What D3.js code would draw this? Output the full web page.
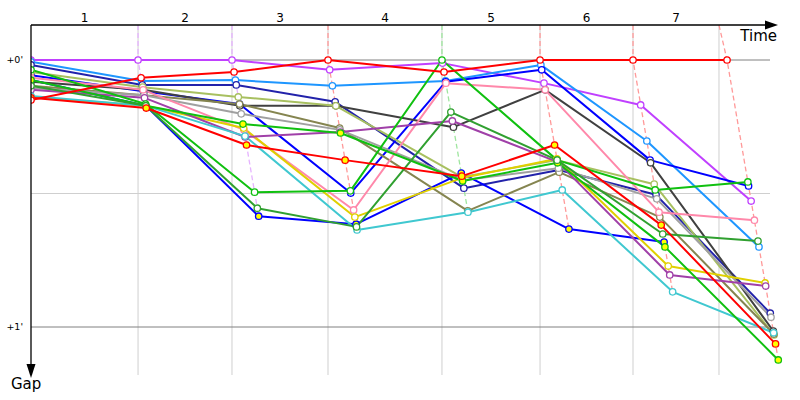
<!DOCTYPE html>
<html><head><meta charset="utf-8">
<script src="https://cdn.jsdelivr.net/npm/d3@7"></script>
<style>body{margin:0;background:#fff}svg{display:block}text{font-family:"DejaVu Sans",Verdana,sans-serif;fill:#000}</style>
</head><body><svg id="c" width="800" height="400"></svg>
<script>
// ---- data (times / gaps in seconds) ----
const lapLabels = ["1","2","3","4","5","6","7"];
const lapMarks = [140.8, 264.4, 390.7, 540.6, 669.6, 791.9, 905.0];
const leaderTimes = [0, 140.8, 264.4, 390.7, 540.6, 669.6, 791.9, 915.6];
const gapTicks = [0, 30, 60];
const gapTickLabels = ["+0'", "", "+1'"];

const gapViolet      = [0, 0, 0, 2.2, 0.7, 5.2, 10.1, 31.7];
const gapRed         = [9.0, 4.0, 2.7, 0, 2.7, 0, 0, 0];
const gapSkyBlue     = [0.4, 4.7, 4.5, 5.8, 4.7, 1.1, 18.2, 42.0];
const gapNavy        = [1.1, 5.6, 5.6, 9.4, 28.8, 24.7, 30.3, 56.9];
const gapBlue        = [3.4, 7.0, 9.9, 29.9, 4.9, 2.2, 22.5, 28.3];
const gapBlueYellow  = [4.5, 10.3, 35.1, 36.9, 25.4, 38.0, 40.9];
const gapDarkGray    = [4.9, 6.7, 10.3, 10.3, 15.1, 6.7, 23.1, 60.9];
const gapLightOlive  = [2.7, 6.1, 8.3, 10.3, 26.3, 22.5, 27.9, 61.8];
const gapOlive       = [5.8, 7.9, 9.9, 15.3, 33.9, 25.2, 35.3, 61.6];
const gapGray        = [6.3, 7.9, 12.1, 15.7, 27.0, 24.3, 31.2, 57.8];
const gapPink        = [4.0, 6.7, 15.7, 33.7, 5.2, 6.7, 34.2, 36.0];
const gapYellow      = [8.3, 10.3, 15.3, 35.3, 26.5, 22.2, 46.3, 50.1];
const gapPurple      = [6.7, 8.5, 17.3, 16.2, 13.7, 22.9, 48.3, 50.8];
const gapCyan        = [8.1, 10.3, 17.1, 38.2, 34.2, 29.2, 52.1, 61.3];
const gapGreen       = [2.2, 9.9, 29.7, 29.4, 0, 22.5, 29.2, 27.4];
const gapGreenYellow = [4.5, 10.3, 14.4, 16.4, 27.2, 23.1, 42.0, 67.4];
const gapDarkGreen   = [5.8, 10.3, 33.3, 37.5, 11.7, 22.5, 39.1, 40.7];
const gapRedYellow   = [8.5, 10.8, 19.1, 22.5, 26.1, 19.1, 37.1, 63.8];

const series = [
  {color:"#c040ff", fill:"#fff",    gaps:gapViolet},
  {color:"#1e96ff", fill:"#fff",    gaps:gapSkyBlue},
  {color:"#2222aa", fill:"#fff",    gaps:gapNavy},
  {color:"#0000ff", fill:"#fff",    gaps:gapBlue},
  {color:"#0000ff", fill:"#ffff00", gaps:gapBlueYellow},
  {color:"#404040", fill:"#fff",    gaps:gapDarkGray},
  {color:"#a8c060", fill:"#fff",    gaps:gapLightOlive},
  {color:"#858550", fill:"#fff",    gaps:gapOlive},
  {color:"#a0a0a0", fill:"#fff",    gaps:gapGray},
  {color:"#ff88aa", fill:"#fff",    gaps:gapPink},
  {color:"#e0d000", fill:"#fff",    gaps:gapYellow},
  {color:"#a040a8", fill:"#fff",    gaps:gapPurple},
  {color:"#40c8d0", fill:"#fff",    gaps:gapCyan},
  {color:"#10c010", fill:"#fff",    gaps:gapGreen},
  {color:"#10c010", fill:"#ffff00", gaps:gapGreenYellow},
  {color:"#30a030", fill:"#fff",    gaps:gapDarkGreen},
  {color:"#ff0000", fill:"#ffff00", gaps:gapRedYellow},
  {color:"#ff0000", fill:"#fff",    gaps:gapRed}
];

// ---- scales ----
const x = d3.scaleLinear().domain([0, 980]).range([31, 776]);
const y = d3.scaleLinear().domain([0, 60]).range([60, 327]);
const axisTop = 25, gridBottom = 375, gridRight = 770;

const svg = d3.select("#c");
svg.append("defs").append("clipPath").attr("id","clip")
  .append("rect").attr("x",31).attr("y",0).attr("width",769).attr("height",400);

series.forEach(s => {
  s.pts = s.gaps.map((g,i) => ({lap:i, gap:g,
    px: i === 0 ? x(0) : x(leaderTimes[i] + g), py: y(g)}));
});

// ---- grid ----
const grid = svg.append("g");
grid.selectAll("line.v").data(lapMarks).join("line")
  .attr("x1", d=>x(d)).attr("x2", d=>x(d)).attr("y1", axisTop).attr("y2", gridBottom)
  .attr("stroke","#cfcfcf").attr("stroke-width",1);
grid.selectAll("line.h").data(gapTicks).join("line")
  .attr("x1", 31).attr("x2", gridRight).attr("y1", d=>y(d)).attr("y2", d=>y(d))
  .attr("stroke", (d,i)=> i===1 ? "#cfcfcf" : "#808080").attr("stroke-width",1);

// ---- lap lines ----
const lapG = svg.append("g");
for (let k = 1; k < leaderTimes.length; k++) {
  const pts = series.filter(s => s.gaps.length > k).map(s => ({s, p:s.pts[k]}));
  pts.sort((a,b)=>a.p.gap - b.p.gap);
  const lead = pts[0].s.color;
  const col = d3.interpolateRgb(lead, "#fff")(0.6);
  const path = [[x(lapMarks[k-1]), axisTop]].concat(pts.map(d=>[d.p.px, d.p.py]));
  lapG.append("path").attr("d", d3.line()(path)).attr("fill","none")
    .attr("stroke", col).attr("stroke-width",1.3).attr("stroke-dasharray","5,3");
}

// ---- series ----
const plot = svg.append("g").attr("clip-path","url(#clip)");
const line = d3.line().x(d=>d.px).y(d=>d.py);
series.forEach(s => {
  plot.append("path").attr("d", line(s.pts)).attr("fill","none")
    .attr("stroke", s.color).attr("stroke-width",2).attr("stroke-linejoin","round");
});
series.forEach(s => {
  plot.append("g").selectAll("circle").data(s.pts).join("circle")
    .attr("cx", d=>d.px).attr("cy", d=>d.py).attr("r",3.2)
    .attr("fill", s.fill).attr("stroke", s.color).attr("stroke-width",1.3);
});

// ---- axes ----
svg.append("line").attr("x1",31).attr("x2",768).attr("y1",axisTop).attr("y2",axisTop)
  .attr("stroke","#000").attr("stroke-width",1.3);
svg.append("path").attr("d", d3.line()([[765,20.5],[778,25],[765,29.5]])+"Z").attr("fill","#000");
svg.append("line").attr("x1",31).attr("x2",31).attr("y1",axisTop).attr("y2",372)
  .attr("stroke","#000").attr("stroke-width",1.3);
svg.append("path").attr("d", d3.line()([[26.5,364],[31,378],[35.5,364]])+"Z").attr("fill","#000");

const mids = lapMarks.map((m,i)=> { const p = i===0 ? 0 : lapMarks[i-1]; return (p + m)/2; });
svg.selectAll("text.lap").data(lapLabels).join("text")
  .attr("x",(d,i)=>x(mids[i])).attr("y",22).attr("text-anchor","middle")
  .style("font-size","12px").text(d=>d);

svg.selectAll("text.gt").data(gapTicks).join("text")
  .attr("x",23).attr("y",d=>y(d)+3).attr("text-anchor","end")
  .style("font-size","9.5px").text((d,i)=>gapTickLabels[i]);

svg.append("text").attr("x",777).attr("y",41).attr("text-anchor","end")
  .style("font-size","15px").text("Time");
svg.append("text").attr("x",11).attr("y",389)
  .style("font-size","15px").text("Gap");
</script></body></html>
